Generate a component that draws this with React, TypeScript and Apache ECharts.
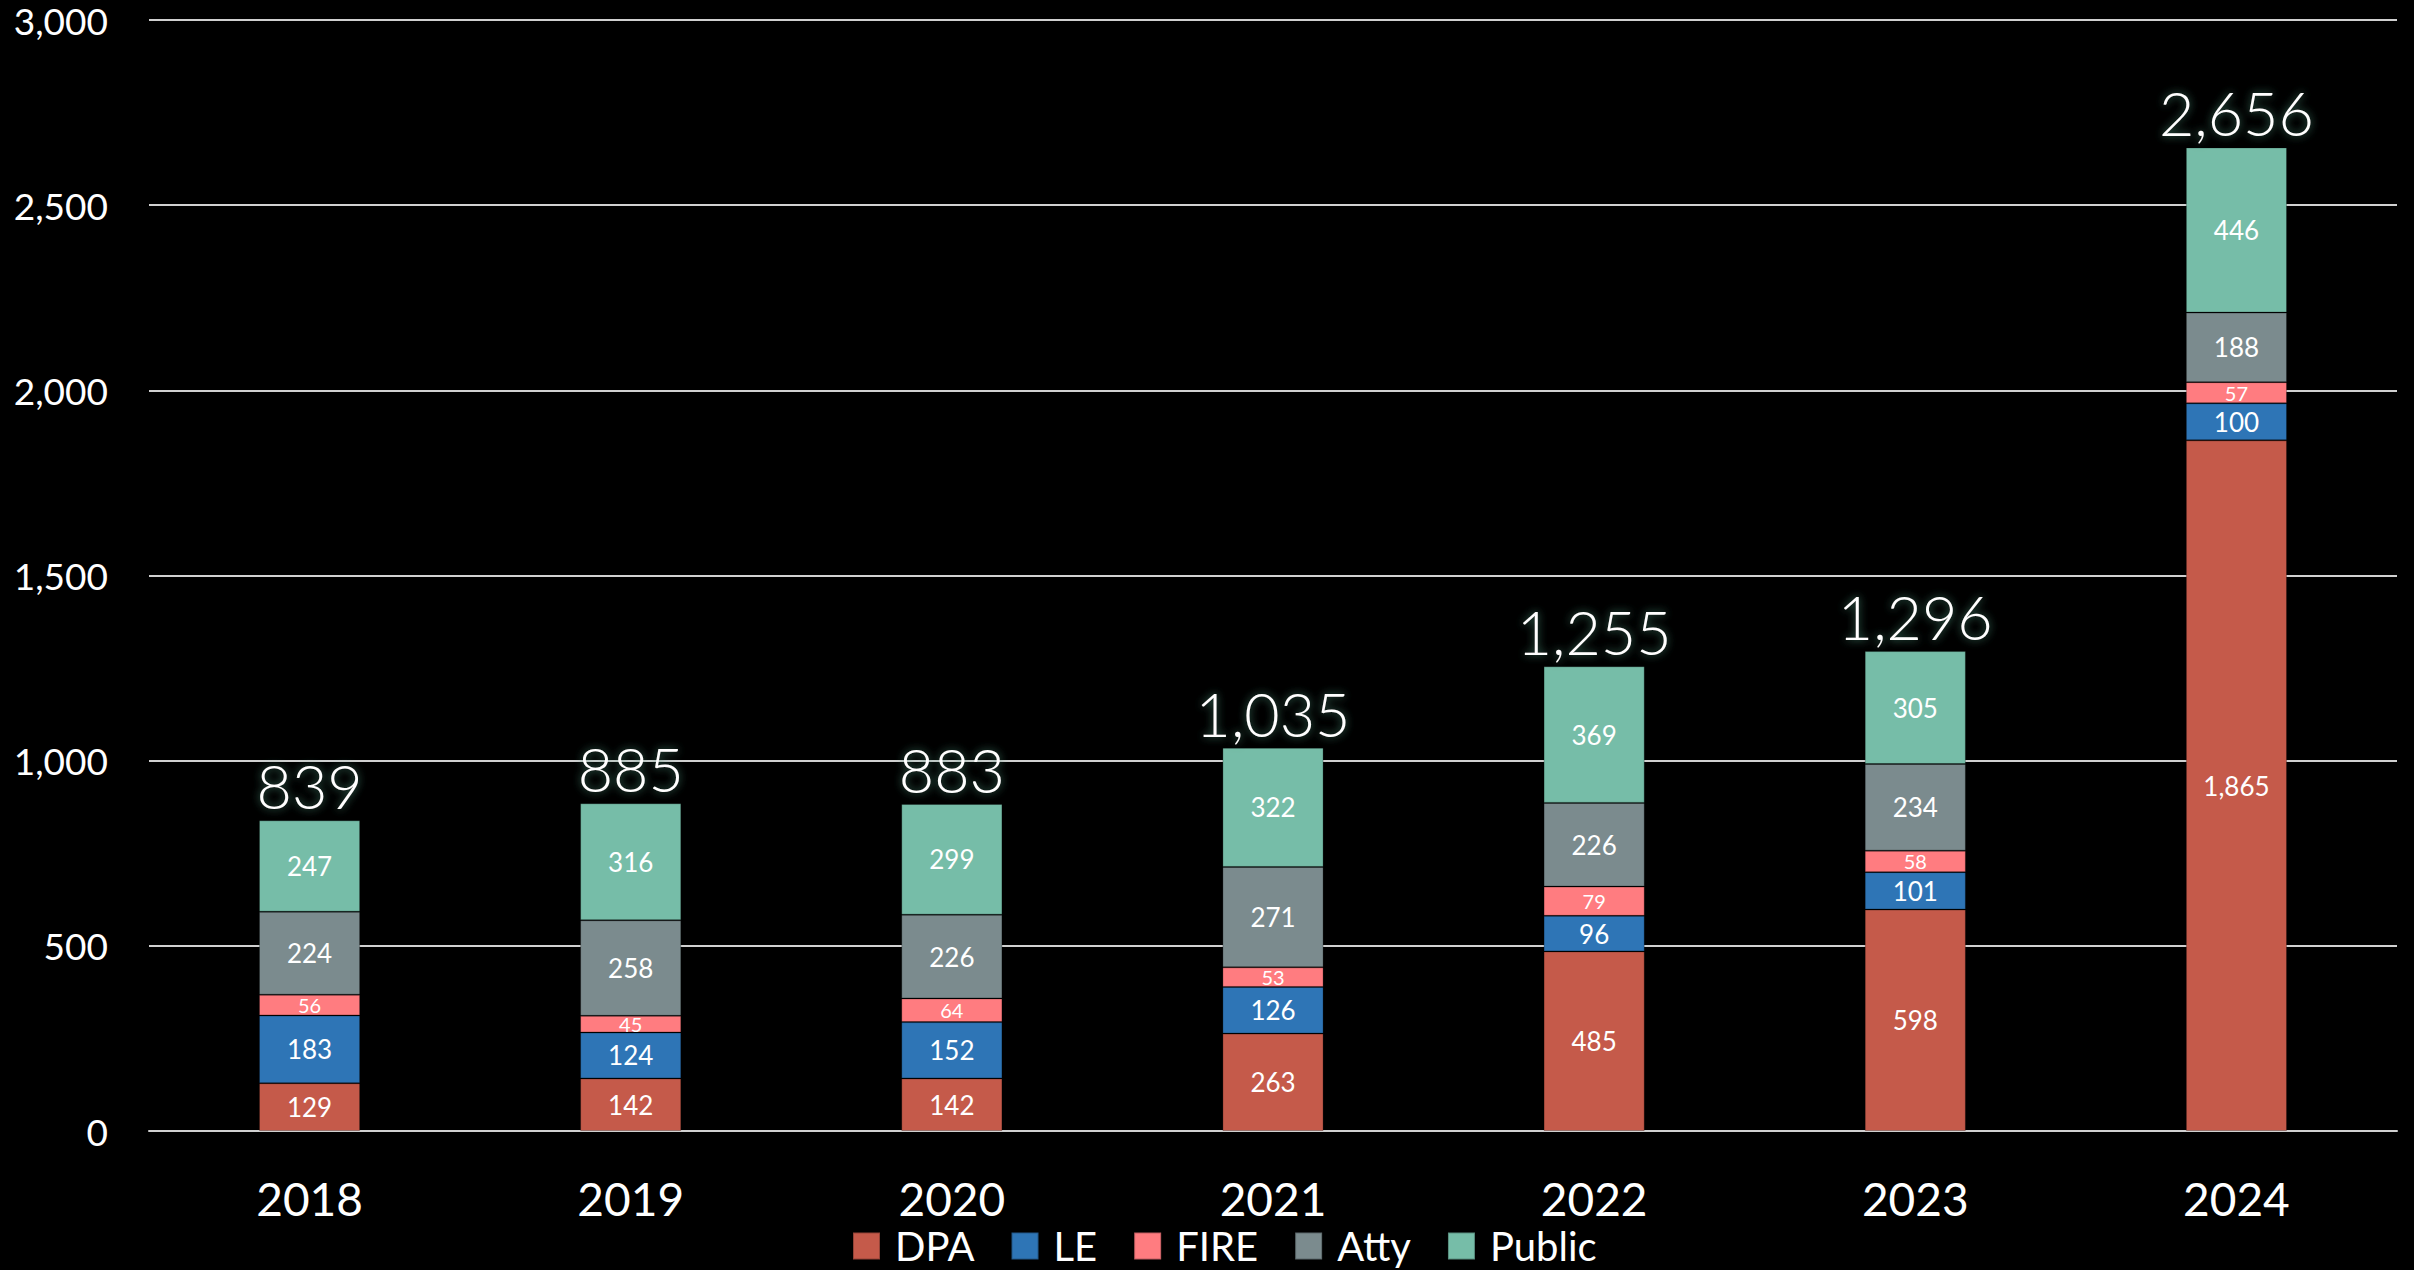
import React, { useEffect, useRef } from "react";
import * as echarts from "echarts";

const years = ["2018", "2019", "2020", "2021", "2022", "2023", "2024"];
const dpa = [129, 142, 142, 263, 485, 598, 1865];
const le = [183, 124, 152, 126, 96, 101, 100];
const fire = [56, 45, 64, 53, 79, 58, 57];
const atty = [224, 258, 226, 271, 226, 234, 188];
const pub = [247, 316, 299, 322, 369, 305, 446];
const totals = [839, 885, 883, 1035, 1255, 1296, 2656];

const FONT = "Lato, 'Open Sans', sans-serif";
const fmt = (v: number) => v.toLocaleString("en-US");

export default function App() {
  const ref = useRef<HTMLDivElement>(null);
  useEffect(() => {
    if (!ref.current) return;
    const chart = echarts.init(ref.current, undefined, { renderer: "svg" });
    const inner = (size: number) => ({
      show: true,
      position: "inside" as const,
      color: "#ffffff",
      fontSize: size,
      fontFamily: FONT,
      formatter: (p: any) => fmt(p.value),
    });
    const mk = (name: string, data: number[], color: string, size: number) => ({
      name,
      type: "bar",
      stack: "total",
      data,
      barWidth: "31.5%",
      itemStyle: { color, borderColor: "rgba(0,0,0,0.25)", borderWidth: 1 },
      label: inner(size),
    });
    chart.setOption({
      animation: false,
      backgroundColor: "#000000",
      color: ["#C55A4A", "#2E75B6", "#FF7C80", "#7B8B8E", "#76BDA8"],
      grid: { left: 149, right: 17, top: 20, bottom: 139 },
      legend: {
        top: 1226,
        left: 852,
        itemWidth: 27,
        itemHeight: 27,
        itemGap: 36,
        icon: "rect",
        padding: 0,
        textStyle: {
          color: "#ffffff",
          fontSize: 40,
          lineHeight: 40,
          fontFamily: FONT,
          padding: [0, 0, 0, 10],
        },
        data: ["DPA", "LE", "FIRE", "Atty", "Public"],
      },
      xAxis: {
        type: "category",
        data: years,
        axisLine: { show: true, lineStyle: { color: "#d0d0d0", width: 2 } },
        axisTick: { show: false },
        axisLabel: { color: "#ffffff", fontSize: 46, fontFamily: FONT, margin: 44 },
      },
      yAxis: {
        type: "value",
        min: 0,
        max: 3000,
        interval: 500,
        axisLine: { show: false },
        axisTick: { show: false },
        splitLine: { lineStyle: { color: "#d0d0d0", width: 2 } },
        axisLabel: {
          color: "#ffffff",
          fontSize: 37,
          lineHeight: 28,
          fontFamily: FONT,
          margin: 41,
          formatter: (v: number) => fmt(v),
        },
      },
      series: [
        mk("DPA", dpa, "#C55A4A", 26),
        mk("LE", le, "#2E75B6", 26),
        mk("FIRE", fire, "#FF7C80", 20),
        mk("Atty", atty, "#7B8B8E", 26),
        mk("Public", pub, "#76BDA8", 26),
        {
          name: "Total",
          type: "bar",
          stack: "total",
          data: totals.map(() => 0),
          barWidth: "31.5%",
          itemStyle: { color: "transparent" },
          label: {
            show: true,
            position: "top",
            distance: 4,
            color: "#ffffff",
            fontSize: 61,
            fontWeight: 300,
            fontFamily: FONT,
            textShadowColor: "rgba(70,140,115,0.9)",
            textShadowBlur: 8,
            formatter: (p: any) => fmt(totals[p.dataIndex]),
          },
        },
      ],
    });
    return () => chart.dispose();
  }, []);
  return (
    <div
      ref={ref}
      style={{ position: "fixed", left: 0, top: 0, width: 2414, height: 1270 }}
    />
  );
}
